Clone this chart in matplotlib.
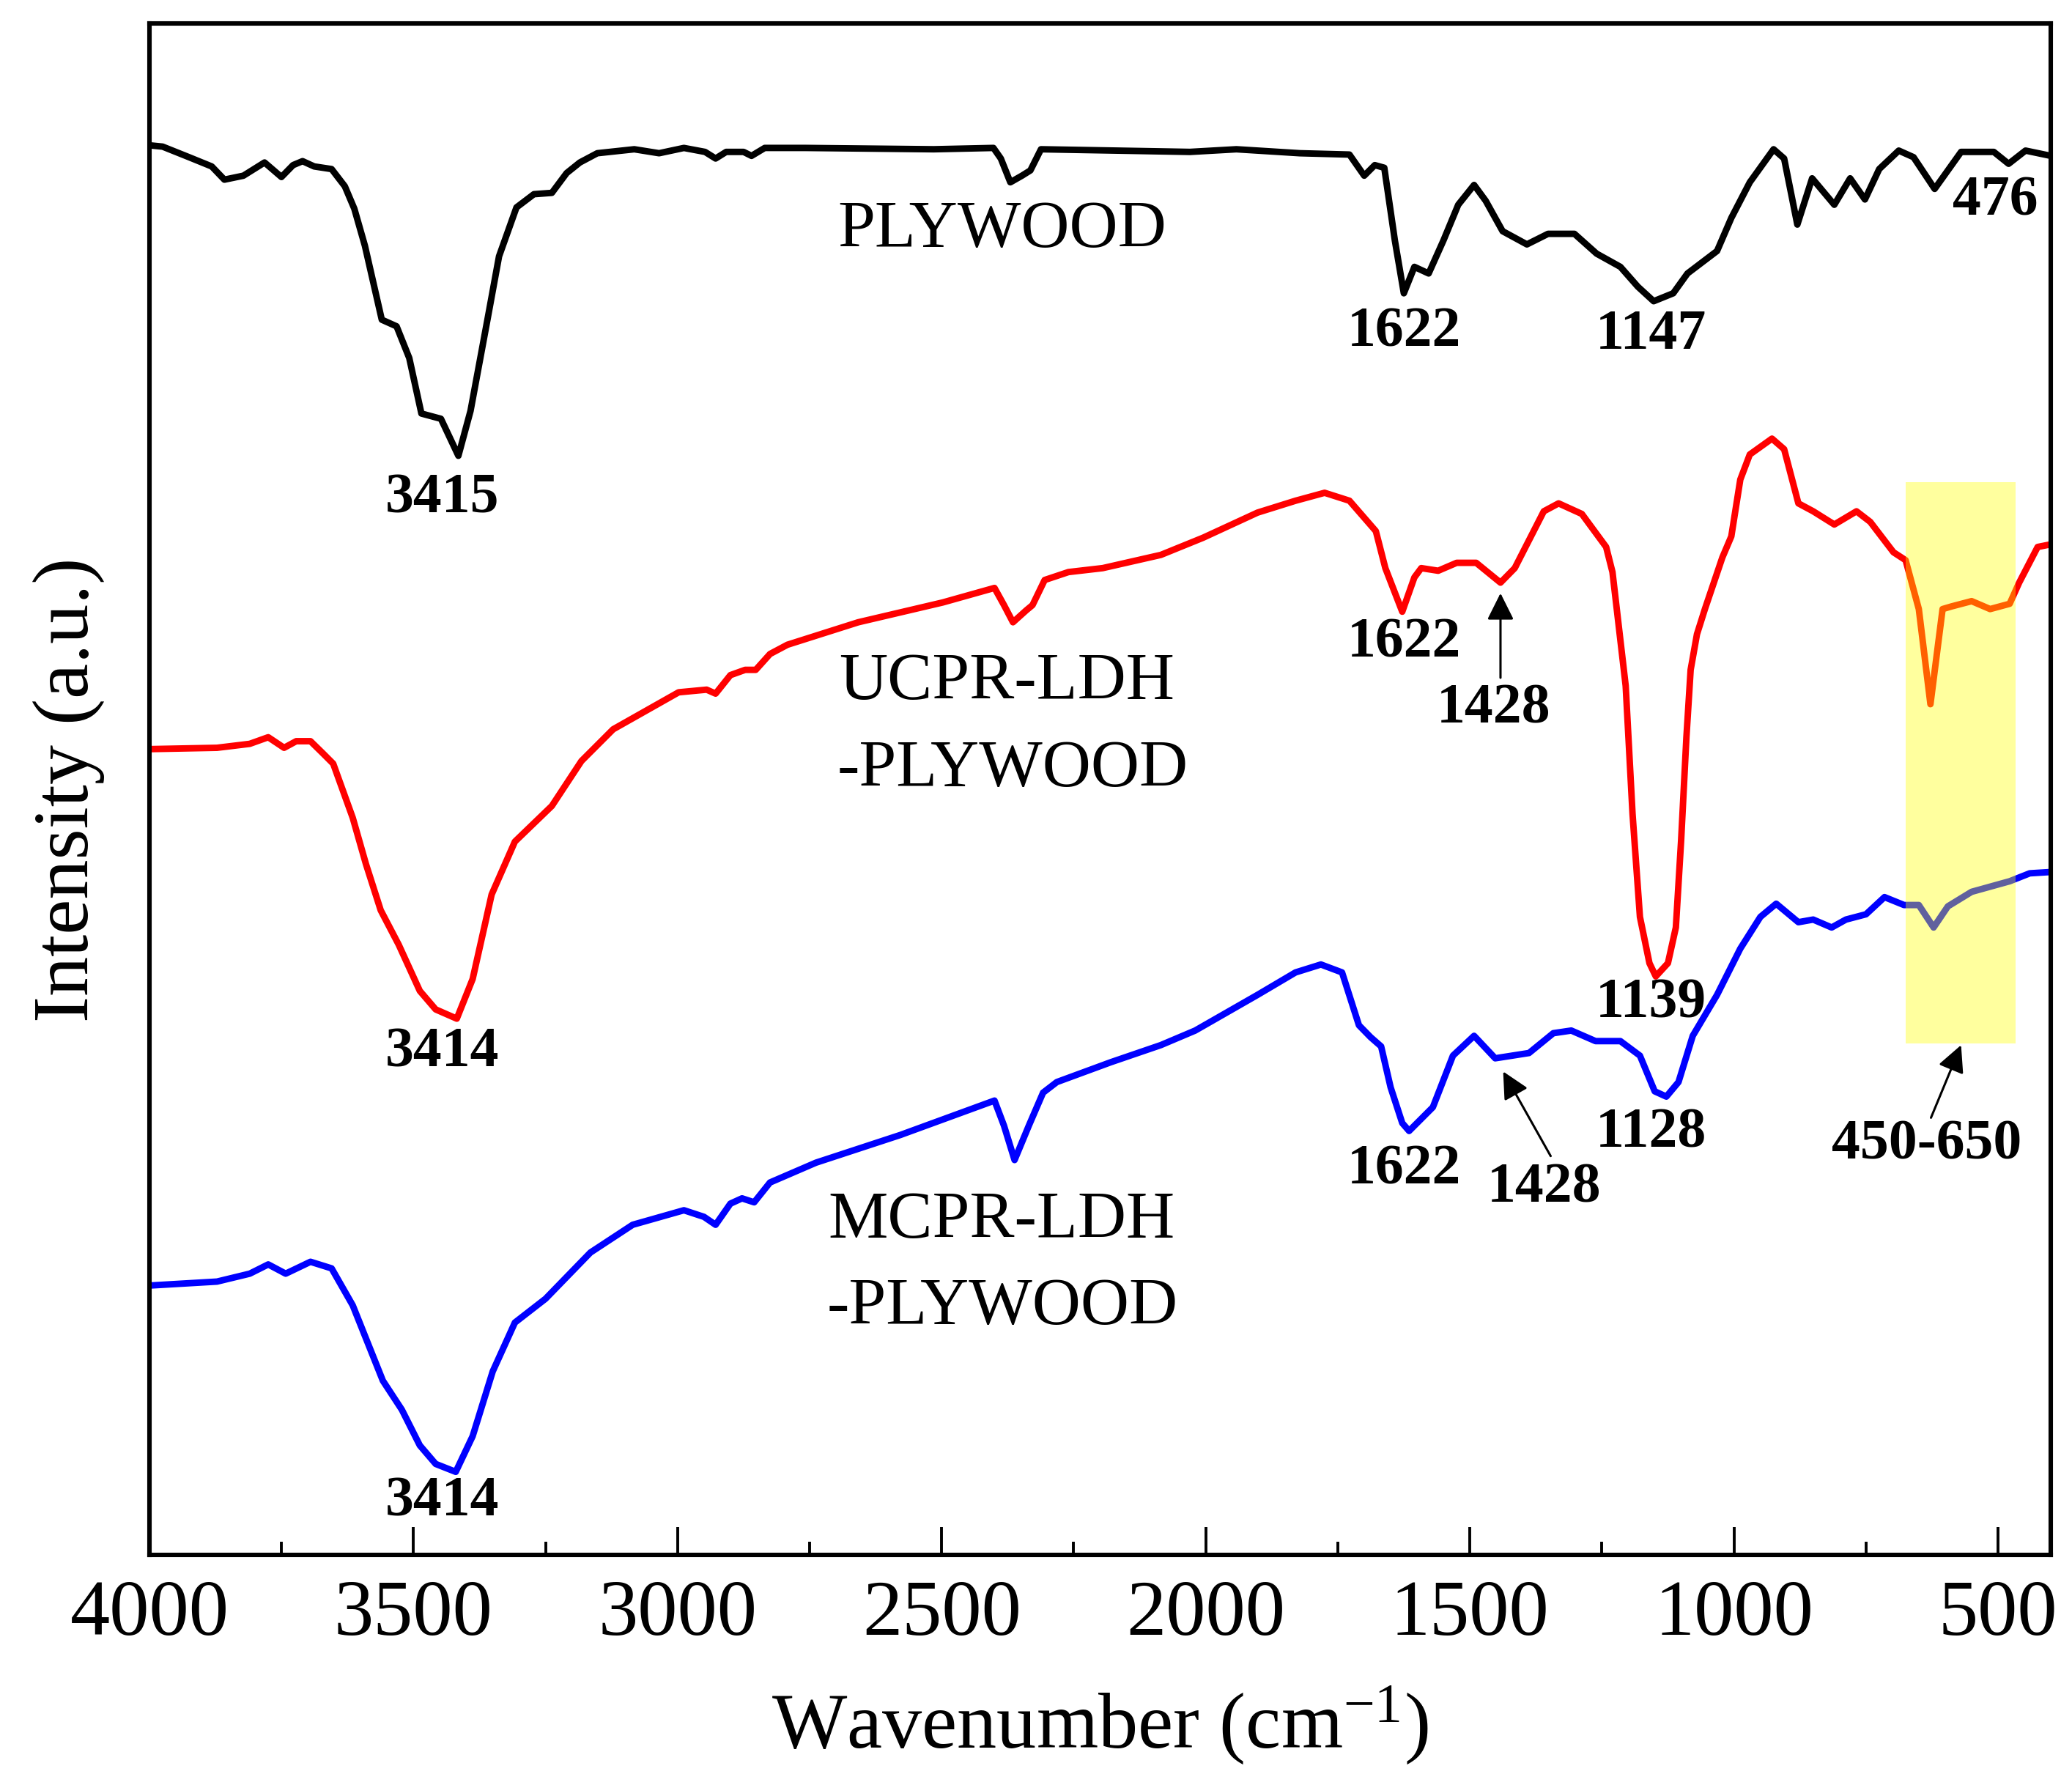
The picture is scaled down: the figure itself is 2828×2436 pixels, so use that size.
import matplotlib
matplotlib.use("Agg")
import matplotlib.pyplot as plt
from matplotlib.patches import Rectangle
from matplotlib.ticker import MultipleLocator

plt.rcParams['font.family'] = ['Liberation Serif', 'DejaVu Serif']
plt.rcParams['mathtext.fontset'] = 'custom'
plt.rcParams['mathtext.rm'] = 'Liberation Serif'
plt.rcParams['mathtext.default'] = 'regular'

# PLYWOOD spectrum
wn_ply = [4000, 3975, 3925, 3882, 3858, 3822, 3782, 3750, 3728, 3710, 3688, 3655, 3630, 3612,
          3592, 3560, 3532, 3508, 3485, 3448, 3415, 3392, 3360, 3338, 3305, 3272, 3238, 3210,
          3185, 3152, 3082, 3035, 2988, 2948, 2928, 2908, 2875, 2860, 2835, 2758, 2515, 2402,
          2388, 2370, 2348, 2332, 2312, 2030, 1942, 1822, 1728, 1700, 1680, 1662, 1642, 1625,
          1605, 1578, 1550, 1522, 1492, 1470, 1438, 1392, 1352, 1302, 1260, 1215, 1182, 1152,
          1115, 1088, 1032, 1005, 970, 925, 905, 880, 852, 810, 780, 752, 725, 688, 660, 620,
          570, 508, 480, 448, 400]
int_ply = [1090, 1089, 1081, 1074, 1064, 1067, 1077, 1066, 1075, 1078, 1074, 1072, 1059, 1042,
           1014, 958, 953, 929, 887, 883, 855, 889, 958, 1006, 1043, 1053, 1054, 1069,
           1077, 1084, 1087, 1084, 1088, 1085, 1080, 1085, 1085, 1082, 1088, 1088, 1087, 1088,
           1080, 1062, 1067, 1071, 1087, 1085, 1087, 1084, 1083, 1067, 1075, 1073, 1018, 978,
           998, 993, 1018, 1045, 1060, 1048, 1025, 1015, 1023, 1023, 1008, 998, 983, 972,
           978, 993, 1010, 1035, 1062, 1087, 1080, 1030, 1065, 1045, 1065, 1049, 1072, 1086, 1081, 1057,
           1085, 1085, 1076, 1086, 1082]

# UCPR-LDH-PLYWOOD spectrum
wn_ucpr = [4000, 3872, 3810, 3775, 3745, 3722, 3695, 3672, 3652, 3615, 3590, 3562, 3528, 3488,
           3458, 3418, 3388, 3352, 3308, 3238, 3182, 3122, 3060, 2998, 2945, 2928, 2900, 2872,
           2852, 2825, 2792, 2658, 2498, 2400, 2382, 2365, 2340, 2328, 2305, 2260, 2195, 2085,
           2005, 1902, 1830, 1775, 1728, 1678, 1660, 1628, 1605, 1592, 1560, 1525, 1488, 1442,
           1415, 1360, 1332, 1288, 1242, 1230, 1205, 1192, 1178, 1160, 1148, 1125, 1110, 1100,
           1090, 1082, 1070, 1055, 1022, 1005, 988, 970, 928, 905, 878, 850, 810, 768, 742,
           698, 675, 650, 628, 605, 588, 550, 515, 478, 460, 425, 400]
int_ucpr = [633, 634, 637, 642, 634, 639, 639, 630, 622, 581, 546, 511, 485, 450,
            436, 429, 459, 523, 563, 590, 624, 648, 662, 676, 678, 675, 689, 693,
            693, 705, 712, 729, 744, 755, 742, 729, 738, 742, 761, 767, 770, 780,
            793, 812, 821, 827, 821, 798, 770, 737, 763, 770, 768, 774, 774, 759,
            770, 813, 819, 811, 786, 767, 681, 584, 506, 471, 461, 471, 498, 564,
            642, 693, 720, 739, 778, 794, 837, 856, 868, 860, 819, 813, 803, 813, 805,
            782, 776, 739, 667, 739, 741, 745, 739, 743, 759, 786, 788]

# MCPR-LDH-PLYWOOD spectrum
wn_mcpr = [4000, 3872, 3810, 3775, 3742, 3695, 3655, 3615, 3590, 3558, 3522, 3488, 3458, 3420,
           3388, 3350, 3308, 3250, 3165, 3085, 2988, 2950, 2928, 2900, 2878, 2855, 2825, 2738,
           2578, 2400, 2382, 2362, 2335, 2308, 2282, 2180, 2085, 2020, 1902, 1830, 1782, 1742,
           1710, 1688, 1668, 1650, 1628, 1615, 1570, 1532, 1492, 1452, 1388, 1342, 1308, 1262,
           1215, 1178, 1150, 1128, 1105, 1078, 1032, 988, 950, 920, 902, 878, 850, 815, 788,
           750, 715, 678, 650, 622, 595, 550, 478, 440, 400]
int_mcpr = [227, 230, 236, 243, 236, 245, 240, 212, 187, 155, 133, 106, 92, 86,
            113, 162, 199, 217, 252, 273, 284, 279, 273, 289, 293, 290, 305, 320,
            341, 367, 348, 322, 348, 373, 381, 396, 409, 420, 447, 464, 470, 464,
            424, 415, 408, 377, 350, 344, 362, 401, 416, 399, 403, 418, 420, 412,
            412, 401, 374, 370, 381, 416, 447, 482, 506, 516, 510, 502, 504, 498, 504,
            508, 521, 515, 515, 498, 514, 525, 533, 539, 540]

fig = plt.figure(figsize=(14.14, 12.18), dpi=200)
ax = fig.add_axes([0.0721, 0.1288, 0.9177, 0.8579])

ax.plot(wn_ply, int_ply, color='black', lw=3.2, solid_joinstyle='round', zorder=2)
ax.plot(wn_ucpr, int_ucpr, color='red', lw=3.2, solid_joinstyle='round', zorder=2)
ax.plot(wn_mcpr, int_mcpr, color='blue', lw=3.2, solid_joinstyle='round', zorder=2)

# highlighted 450-650 region
ax.add_patch(Rectangle((467, 410), 675 - 467, 835 - 410, facecolor='yellow',
                       edgecolor='none', alpha=0.38, zorder=3))

ax.set_xlim(4000, 400)
ax.set_ylim(23, 1182)
ax.xaxis.set_major_locator(MultipleLocator(500))
ax.xaxis.set_minor_locator(MultipleLocator(250))
ax.set_yticks([])
ax.tick_params(axis='x', which='major', direction='in', length=13.8, width=1.4,
               labelsize=39, pad=12, top=False)
ax.tick_params(axis='x', which='minor', direction='in', length=6.6, width=1.4, top=False)
for s in ax.spines.values():
    s.set_linewidth(2.2)

ax.set_xlabel(r'Wavenumber (cm$^{-1}$)', fontsize=39, labelpad=16)
ax.set_ylabel('Intensity (a.u.)', fontsize=39, labelpad=22)

bold = dict(fontsize=28, fontweight='bold', ha='center', va='baseline')
name = dict(fontsize=33, ha='center', va='baseline')

# PLYWOOD labels
ax.text(3445, 812, '3415', **bold)
ax.text(1625, 938, '1622', **bold)
ax.text(1157, 936, '1147', **bold)
ax.text(505, 1037, '476', **bold)
ax.text(2385, 1013, 'PLYWOOD', **name)

# UCPR labels
ax.text(3445, 393, '3414', **bold)
ax.text(1625, 703, '1622', **bold)
ax.text(1455, 653, '1428', **bold)
ax.text(1157, 430, '1139', **bold)
ax.text(2377, 671, 'UCPR-LDH', **name)
ax.text(2365, 605, '-PLYWOOD', **name)

# MCPR labels
ax.text(3445, 53, '3414', **bold)
ax.text(1625, 304, '1622', **bold)
ax.text(1360, 290, '1428', **bold)
ax.text(1157, 332, '1128', **bold)
ax.text(635, 323, '450-650', **bold)
ax.text(2387, 263, 'MCPR-LDH', **name)
ax.text(2385, 198, '-PLYWOOD', **name)

arrow = dict(arrowstyle='-|>', color='black', lw=1.1, mutation_scale=28, shrinkA=0, shrinkB=0)
ax.annotate('', xy=(1442, 751), xytext=(1442, 687), arrowprops=arrow)
ax.annotate('', xy=(1437, 389), xytext=(1347, 325), arrowprops=arrow)
ax.annotate('', xy=(570, 409), xytext=(627, 354), arrowprops=arrow)

plt.savefig('out.png', dpi=200)
